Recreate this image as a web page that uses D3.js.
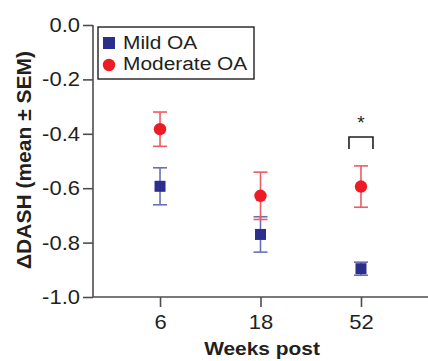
<!DOCTYPE html>
<html>
<head>
<meta charset="utf-8">
<script src="https://cdn.jsdelivr.net/npm/d3@7"></script>
<style>
  body { margin: 0; background: #fff; }
  text { font-family: "Liberation Sans", Arial, sans-serif; fill: #231f20; }
</style>
</head>
<body>
<div id="chart"></div>
<script>
// data
var weeks = ['6', '18', '52'];
var mildMean = [-0.593, -0.770, -0.896];
var mildSem = [0.068, 0.065, 0.024];
var modMean = [-0.383, -0.628, -0.594];
var modSem = [0.063, 0.087, 0.076];
var yTicks = [0.0, -0.2, -0.4, -0.6, -0.8, -1.0];

var width = 428, height = 361;
var margin = {top: 25, right: 0, bottom: 64, left: 93};
var sx = 1.1; // type in the figure is set slightly wide

var svg = d3.select('#chart').append('svg')
    .attr('width', width)
    .attr('height', height);

var x = d3.scalePoint()
    .domain(weeks)
    .range([margin.left, width - margin.right])
    .padding(0.667);

var y = d3.scaleLinear()
    .domain([-1.0, 0.0])
    .range([height - margin.bottom, margin.top]);

var axisColor = '#4d4d4f';

// y axis
var yAxis = svg.append('g')
    .attr('transform', 'translate(' + margin.left + ',0)')
    .call(d3.axisLeft(y).tickValues(yTicks).tickSize(10));
yAxis.selectAll('.tick text')
    .style('font-size', '20px')
    .attr('x', -13 / sx)
    .attr('transform', 'scale(' + sx + ',1)')
    .text(d => d3.format('.1f')(d).replace('−', '-'));

// x axis
var xAxis = svg.append('g')
    .attr('transform', 'translate(0,' + (height - margin.bottom) + ')')
    .call(d3.axisBottom(x).tickSize(10).tickPadding(8).tickSizeOuter(0));
xAxis.selectAll('.tick text')
    .style('font-size', '20px')
    .attr('transform', 'scale(' + sx + ',1)');

svg.selectAll('.domain, .tick line').attr('stroke', axisColor).attr('stroke-width', 1.6);
yAxis.select('.domain').attr('d', 'M0,' + y(0) + 'V' + y(-1));
xAxis.select('.domain').attr('d', 'M' + margin.left + ',0H' + width);

// axis titles
svg.append('text')
    .attr('transform', 'translate(262,355) scale(' + sx + ',1)')
    .attr('text-anchor', 'middle')
    .style('font-size', '19px')
    .style('font-weight', 'bold')
    .text('Weeks post');

svg.append('text')
    .attr('transform', 'translate(31,160) rotate(-90)')
    .attr('text-anchor', 'middle')
    .style('font-size', '21px')
    .style('font-weight', 'bold')
    .text('ΔDASH (mean ± SEM)');

var blue = '#2b2e8c', blueBar = '#6a6fb5';
var red = '#ed1c24', redBar = '#f05a61';
var capW = 7;

function errorBars(means, sems, color) {
  var g = svg.append('g').attr('stroke', color).attr('stroke-width', 1.6);
  weeks.forEach(function(w, i) {
    var cx = x(w), top = y(means[i] + sems[i]), bot = y(means[i] - sems[i]);
    g.append('line').attr('x1', cx).attr('x2', cx).attr('y1', top).attr('y2', bot);
    g.append('line').attr('x1', cx - capW).attr('x2', cx + capW).attr('y1', top).attr('y2', top);
    g.append('line').attr('x1', cx - capW).attr('x2', cx + capW).attr('y1', bot).attr('y2', bot);
  });
}

errorBars(mildMean, mildSem, blueBar);
errorBars(modMean, modSem, redBar);

svg.append('g').selectAll('rect')
    .data(mildMean)
    .join('rect')
    .attr('x', (d, i) => x(weeks[i]) - 5.5)
    .attr('y', d => y(d) - 5.5)
    .attr('width', 11)
    .attr('height', 11)
    .attr('fill', blue);

svg.append('g').selectAll('circle')
    .data(modMean)
    .join('circle')
    .attr('cx', (d, i) => x(weeks[i]))
    .attr('cy', d => y(d))
    .attr('r', 6.2)
    .attr('fill', red);

// significance bracket at 52 weeks
var bx = x('52');
svg.append('path')
    .attr('d', 'M' + (bx - 12) + ',' + 149 + 'V137H' + (bx + 12) + 'V149')
    .attr('fill', 'none')
    .attr('stroke', '#231f20')
    .attr('stroke-width', 1.6);
svg.append('text')
    .attr('x', bx)
    .attr('y', 129)
    .attr('text-anchor', 'middle')
    .style('font-size', '19px')
    .text('*');

// legend
var leg = svg.append('g');
leg.append('rect')
    .attr('x', 98).attr('y', 27)
    .attr('width', 156).attr('height', 52)
    .attr('fill', '#fff')
    .attr('stroke', '#231f20')
    .attr('stroke-width', 1.4);
leg.append('rect')
    .attr('x', 103).attr('y', 37)
    .attr('width', 12).attr('height', 12)
    .attr('fill', blue);
leg.append('circle')
    .attr('cx', 109).attr('cy', 65)
    .attr('r', 6.2)
    .attr('fill', red);
leg.append('text')
    .attr('transform', 'translate(123,49) scale(' + sx + ',1)')
    .style('font-size', '19px')
    .text('Mild OA');
leg.append('text')
    .attr('transform', 'translate(123,70) scale(' + sx + ',1)')
    .style('font-size', '19px')
    .text('Moderate OA');
</script>
</body>
</html>
